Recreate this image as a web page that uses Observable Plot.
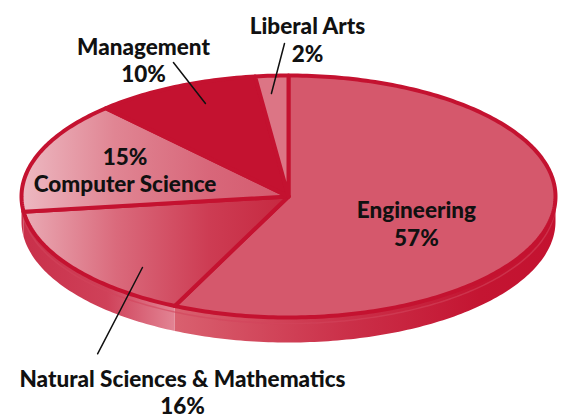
<!DOCTYPE html>
<html><head><meta charset="utf-8">
<script src="https://cdn.jsdelivr.net/npm/d3@7"></script>
<script src="https://cdn.jsdelivr.net/npm/@observablehq/plot@0.6"></script>
<style>html,body{margin:0;padding:0;background:#fff}svg{display:block}</style>
</head><body><div id="chart"></div>
<script>
// ---- data ----
const categories = ["Engineering", "Natural Sciences & Mathematics", "Computer Science", "Management", "Liberal Arts"];
const shares = [57, 16, 15, 10, 2];
const labelText = ["Engineering\n57%", "Natural Sciences & Mathematics\n16%", "15%\nComputer Science", "Management\n10%", "Liberal Arts\n2%"];

// ---- layout (unit-ellipse coordinates) ----
const labelU = [0.479, -0.397, -0.612, -0.543, 0.071];
const labelV = [-0.222, -1.612, 0.222, 1.130, 1.300];
const leaderFrom = {"Natural Sciences & Mathematics": [-0.547, -0.587], "Management": [-0.311, 0.769], "Liberal Arts": [-0.064, 0.851]};
const leaderTo = {"Natural Sciences & Mathematics": [-0.715, -1.300], "Management": [-0.431, 1.107], "Liberal Arts": [-0.015, 1.264]};
const topFill = ["#d5586c", "url(#gNat)", "url(#gCS)", "#c41230", "#dc7585"];
const sideFill = ["url(#gSideEng)", "url(#gSideNat)", "url(#gSideCS)", "#c9304a", "#c9304a"];
const crimson = "#c41230";
const cx = 288, cy = 196, rx = 267, ry = 121, depth = 25 / 121;

// ---- geometry from data ----
const total = d3.sum(shares);
let acc = 0;
const slices = categories.map((c, i) => {
  const a = acc / total * 360; acc += shares[i];
  const b = acc / total * 360;
  return {c, i, a, b};
});
const rad = Math.PI / 180;
function arc(a, b, dv = 0) {
  const n = Math.max(2, Math.ceil(Math.abs(b - a)));
  return d3.range(n + 1).map(k => {
    const t = (a + (b - a) * k / n) * rad;
    return {u: Math.sin(t), v: Math.cos(t) - dv};
  });
}
function topPoly(s) { return [{u: 0, v: 0}, ...arc(s.a, s.b), {u: 0, v: 0}]; }
function sidePoly(s) {
  const a = Math.max(s.a, 90), b = Math.min(s.b, 270);
  if (b <= a) return null;
  return [...arc(a, b), ...arc(b, a, depth)];
}

const marks = [];
slices.forEach(s => {
  const p = sidePoly(s);
  if (p) marks.push(Plot.line(p, {x: "u", y: "v", fill: sideFill[s.i], stroke: "none"}));
});
// thin rim line where top face meets the side
marks.push(Plot.line(arc(90, 270, 0.05), {x: "u", y: "v", stroke: "#d2455c", strokeWidth: 1.5, strokeOpacity: 0.6}));
slices.forEach(s => {
  marks.push(Plot.line(topPoly(s), {x: "u", y: "v", fill: topFill[s.i], stroke: crimson, strokeWidth: 4, strokeLinejoin: "round"}));
});
Object.keys(leaderFrom).forEach(k => {
  marks.push(Plot.line([leaderFrom[k], leaderTo[k]], {x: d => d[0], y: d => d[1], stroke: "#111", strokeWidth: 1.5}));
});
marks.push(Plot.text(categories.map((c, i) => ({c, i})), {
  x: d => labelU[d.i], y: d => labelV[d.i], text: d => labelText[d.i],
  fontSize: 22.5, fontWeight: 900, fill: "#111", lineHeight: 1.22, textAnchor: "middle",
  letterSpacing: "-0.2px"
}));

const svg = Plot.plot({
  width: 561, height: 417, margin: 0,
  style: {fontFamily: "Lato", background: "#fff", overflow: "visible"},
  x: {domain: [-1, 1], range: [cx - rx, cx + rx], axis: null},
  y: {domain: [-1, 1], range: [cy + ry, cy - ry], axis: null},
  marks
});

// gradients
const defs = d3.select(svg).insert("defs", ":first-child");
function grad(id, stops) {
  const g = defs.append("linearGradient").attr("id", id).attr("x1", 0).attr("x2", 1).attr("y1", 0).attr("y2", 0);
  stops.forEach(([o, c]) => g.append("stop").attr("offset", o).attr("stop-color", c));
}
grad("gNat", [[0, "#eaabb5"], [0.35, "#da6a7c"], [0.7, "#cd3c53"], [1, "#c62840"]]);
grad("gCS", [[0, "#edb9c2"], [0.35, "#e08593"], [0.7, "#d8677a"], [1, "#d45a6e"]]);
grad("gSideNat", [[0, "#c9304a"], [0.55, "#cf4159"], [1, "#e28494"]]);
grad("gSideEng", [[0, "#d9606f"], [0.45, "#cb3049"], [0.8, "#c41532"], [1, "#c41230"]]);
grad("gSideCS", [[0, "#c9304a"], [1, "#c9304a"]]);

document.getElementById("chart").appendChild(svg);
</script></body></html>
